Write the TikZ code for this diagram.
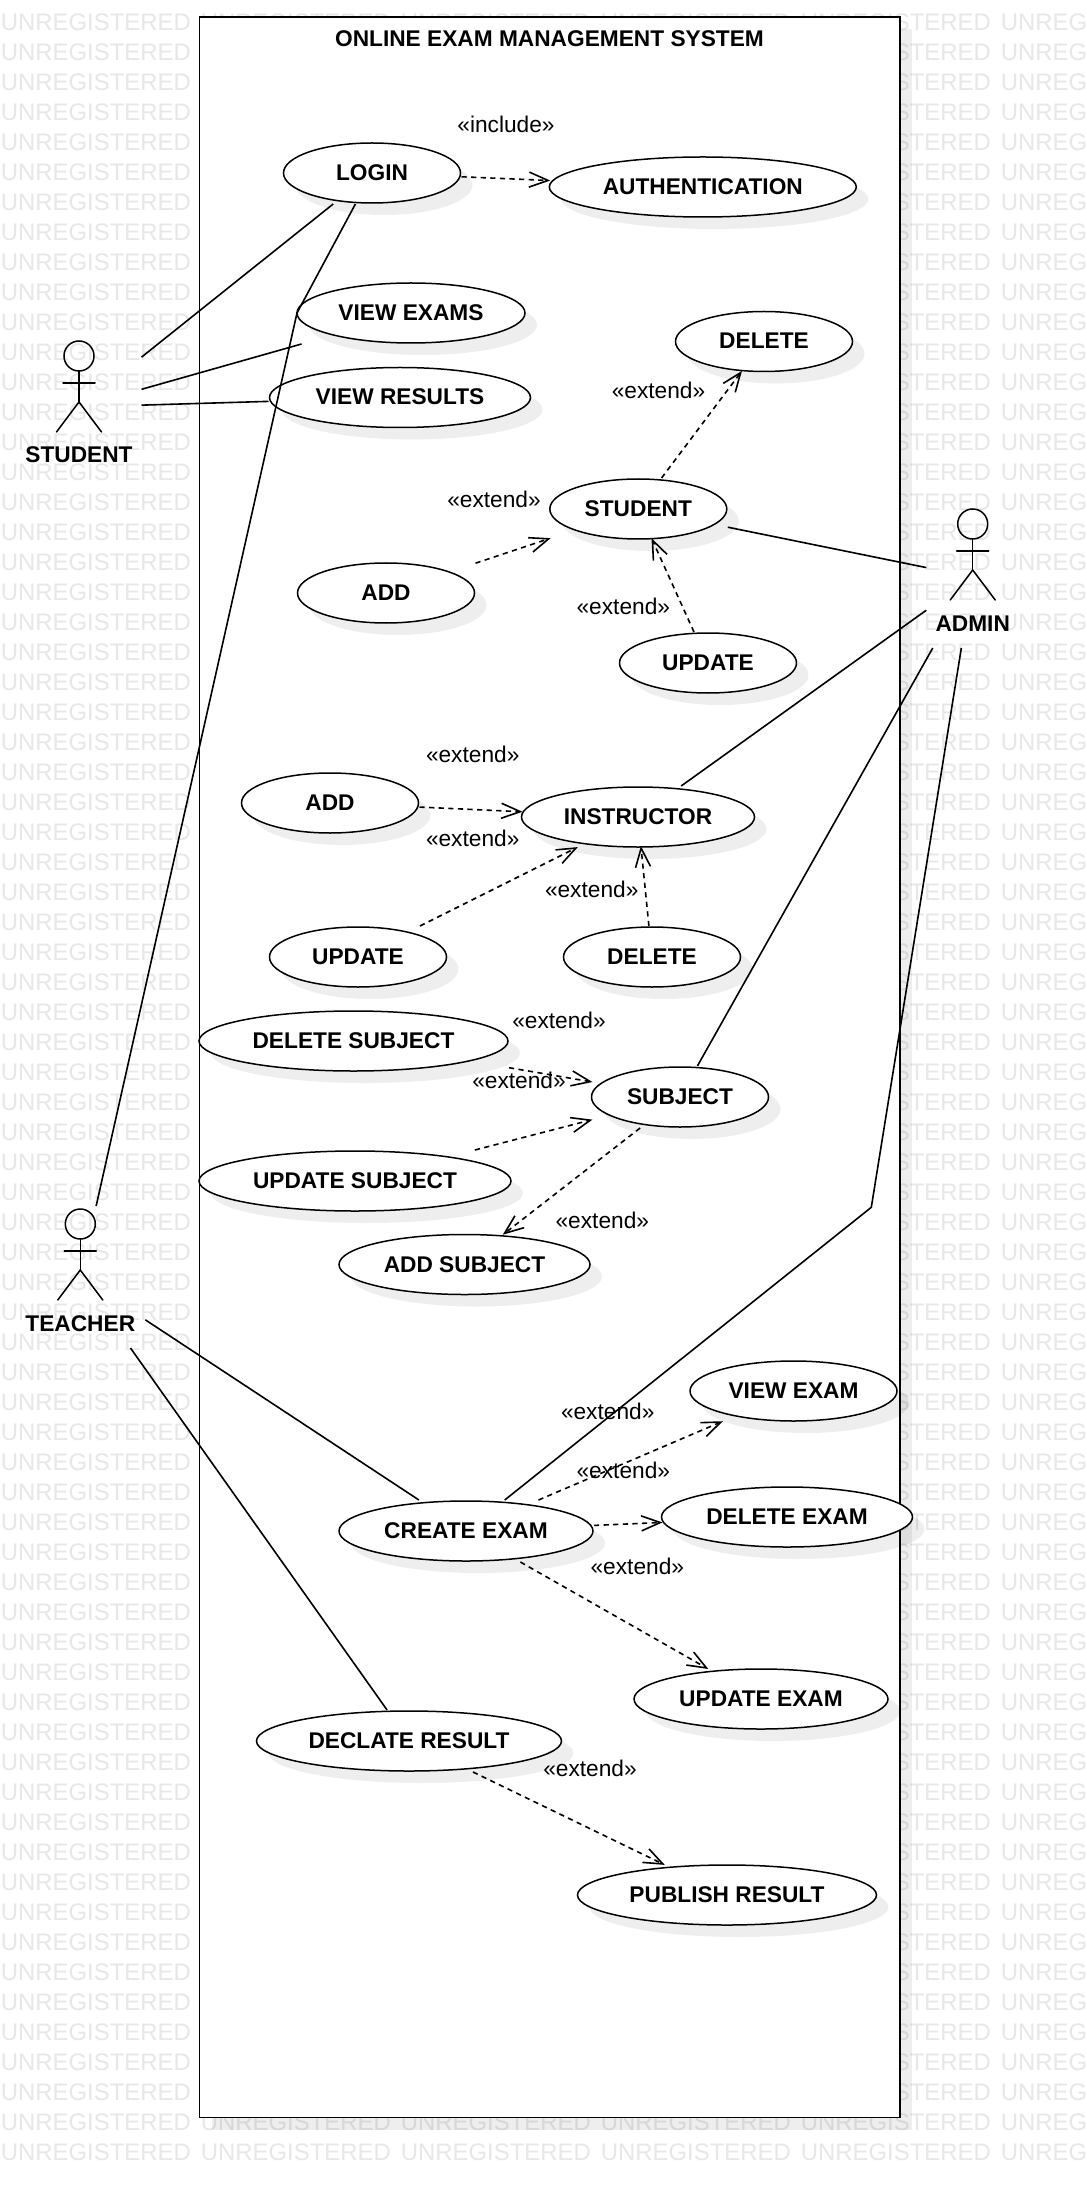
\documentclass[tikz,border=0pt]{standalone}
\usepackage{fontspec}
\setmainfont{Liberation Sans}
\usetikzlibrary{arrows.meta}
\definecolor{wmgray}{HTML}{E7E7E7}
\tikzset{
  ucbox/.style={rectangle,draw=none,inner sep=0pt,outer sep=0pt,minimum height=31pt,align=center,text height=8pt,text depth=0.5pt,font=\fontsize{11.35pt}{13pt}\selectfont\bfseries},
  ucshape/.style={draw=black,line width=0.75pt,fill=white},
  softshadow/.style={fill=black,fill opacity=0.065,draw=none},
  actorbox/.style={rectangle,draw=none,inner sep=0pt,outer sep=0pt},
  actorfig/.style={draw=black,line width=0.75pt,line cap=round},
  actorname/.style={inner sep=0pt,text height=8pt,text depth=0pt,font=\fontsize{11.35pt}{13pt}\selectfont\bfseries},
  stereo/.style={inner sep=0pt,text height=8pt,text depth=0pt,font=\fontsize{11.35pt}{13pt}\selectfont},
  assoc/.style={draw=black,line width=0.8pt},
  dep/.style={draw=black,line width=0.8pt,dash pattern=on 2.6pt off 2.2pt,shorten >=-1pt,-{Straight Barb[length=9.5pt,width=7.5pt,line width=0.8pt]}},
  wm/.style={anchor=west,inner sep=0pt,text=wmgray,font=\fontsize{11.95pt}{14pt}\selectfont},
}
\newcommand{\usecase}[5]{%
  \path[softshadow] (#2+12,#3+12) ellipse [x radius=#4/2,y radius=30];
  \path[ucshape] (#2,#3) ellipse [x radius=#4/2,y radius=30];
  \node[ucbox,minimum width={(#4+2)*0.5pt}] (#1) at (#2,#3) {#5};
}
\newcommand{\actorfigure}[3]{% name, cx, head-top y
  \draw[actorfig] (#2,#3+15) circle [radius=15];
  \draw[actorfig] (#2,#3+30) -- (#2,#3+61);
  \draw[actorfig] (#2-16,#3+42) -- (#2+16,#3+42);
  \draw[actorfig] (#2-22.5,#3+91) -- (#2,#3+61) -- (#2+22.5,#3+91);
}
\begin{document}
\begin{tikzpicture}[x=0.5pt,y=-0.5pt]
\useasboundingbox (0,0) rectangle (1086,2187);
\fill[white] (0,0) rectangle (1086,2187);
\begin{scope}
\clip (0,0) rectangle (1086,2187);
% watermark
\foreach \r in {0,...,71}{
  \pgfmathsetmacro{\yy}{22.2+30*\r}
  \node[wm] (wma\r) at (0.5,\yy) {UNREGISTERED};
  \node[wm] (wme\r) at (800.5,\yy) {UNREGISTERED};
  \node[wm] (wmf\r) at (1000.5,\yy) {UNREGISTERED};
}
\foreach \r in {0,70,71}{
  \pgfmathsetmacro{\yy}{22.2+30*\r}
  \node[wm] (wmb\r) at (200.5,\yy) {UNREGISTERED};
  \node[wm] (wmc\r) at (400.5,\yy) {UNREGISTERED};
  \node[wm] (wmd\r) at (600.5,\yy) {UNREGISTERED};
}
\end{scope}
% frame
\path[softshadow] (211.5,29) rectangle (911.8,2129.5);
\draw[draw=black,line width=0.9pt,fill=white] (199.5,17) rectangle (899.8,2117.5);
\node[actorname] (title) at (549.5,39) {ONLINE EXAM MANAGEMENT SYSTEM};
% use cases
\usecase{login}{372}{173}{177}{LOGIN}
\usecase{auth}{702.8}{187}{307}{AUTHENTICATION}
\usecase{viewexams}{411}{313}{228}{VIEW EXAMS}
\usecase{viewresults}{400}{397.5}{261}{VIEW RESULTS}
\usecase{delstudent}{764}{341.5}{177}{DELETE}
\usecase{student}{638.3}{509}{177}{STUDENT}
\usecase{addstudent}{386}{593}{177}{ADD}
\usecase{updstudent}{708}{663}{177}{UPDATE}
\usecase{addinstr}{330}{803}{177}{ADD}
\usecase{instructor}{638}{817}{233}{INSTRUCTOR}
\usecase{updinstr}{358}{957}{177}{UPDATE}
\usecase{delinstr}{652}{957}{177}{DELETE}
\usecase{delsubject}{353.5}{1041}{309}{DELETE SUBJECT}
\usecase{subject}{680}{1097}{177}{SUBJECT}
\usecase{updsubject}{355}{1181}{312}{UPDATE SUBJECT}
\usecase{addsubject}{464.5}{1264.5}{251}{ADD SUBJECT}
\usecase{viewexam}{793.5}{1391}{207}{VIEW EXAM}
\usecase{deleteexam}{787}{1517}{251}{DELETE EXAM}
\usecase{createexam}{466}{1531}{254}{CREATE EXAM}
\usecase{updateexam}{761}{1699}{254}{UPDATE EXAM}
\usecase{declate}{409}{1741}{305}{DECLATE RESULT}
\usecase{publish}{727}{1895}{299}{PUBLISH RESULT}
% actors
\node[actorbox,minimum width=62.5pt,minimum height=70pt] (astudent) at (79,407) {};
\actorfigure{astudent}{79}{341}
\node[actorname] (lstudent) at (79,455) {STUDENT};
\node[actorbox,minimum width=46.4pt,minimum height=71pt] (aadmin) at (972.7,577) {};
\actorfigure{aadmin}{972.7}{509}
\node[actorname] (ladmin) at (972.7,623) {ADMIN};
\node[actorbox,minimum width=65pt,minimum height=71pt] (ateacher) at (80.3,1277) {};
\actorfigure{ateacher}{80.3}{1209}
\node[actorname] (lteacher) at (80.3,1323) {TEACHER};
% way points
\coordinate (wpone) at (297,313);
\coordinate (wptwo) at (871.3,1207.3);
% associations
\draw[assoc] (astudent) -- (login);
\draw[assoc] (astudent) -- (viewexams);
\draw[assoc] (astudent) -- (viewresults);
\draw[assoc] (login) -- (wpone) -- (ateacher);
\draw[assoc] (student) -- (aadmin);
\draw[assoc] (instructor) -- (aadmin);
\draw[assoc] (subject) -- (aadmin);
\draw[assoc] (aadmin) -- (wptwo) -- (createexam);
\draw[assoc] (ateacher) -- (createexam);
\draw[assoc] (ateacher) -- (declate);
% dependencies
\draw[dep] (login) -- (auth);
\draw[dep] (student) -- (delstudent);
\draw[dep] (addstudent) -- (student);
\draw[dep] (updstudent) -- (student);
\draw[dep] (addinstr) -- (instructor);
\draw[dep] (updinstr) -- (instructor);
\draw[dep] (delinstr) -- (instructor);
\draw[dep] (delsubject) -- (subject);
\draw[dep] (updsubject) -- (subject);
\draw[dep] (subject) -- (addsubject);
\draw[dep] (createexam) -- (viewexam);
\draw[dep] (createexam) -- (deleteexam);
\draw[dep] (createexam) -- (updateexam);
\draw[dep] (declate) -- (publish);
% stereotypes
\node[stereo] (s0) at (506,124.5) {«include»};
\node[stereo] (s1) at (658.5,390.5) {«extend»};
\node[stereo] (s2) at (494,499.5) {«extend»};
\node[stereo] (s3) at (623.3,606) {«extend»};
\node[stereo] (s4) at (472.7,754) {«extend»};
\node[stereo] (s5) at (472.7,838) {«extend»};
\node[stereo] (s6) at (591.7,889) {«extend»};
\node[stereo] (s7) at (559,1020.7) {«extend»};
\node[stereo] (s8) at (519,1080) {«extend»};
\node[stereo] (s9) at (602.3,1220) {«extend»};
\node[stereo] (s10) at (607.7,1411.7) {«extend»};
\node[stereo] (s11) at (623.3,1470) {«extend»};
\node[stereo] (s12) at (637.3,1566) {«extend»};
\node[stereo] (s13) at (590,1768.3) {«extend»};
\end{tikzpicture}
\end{document}
